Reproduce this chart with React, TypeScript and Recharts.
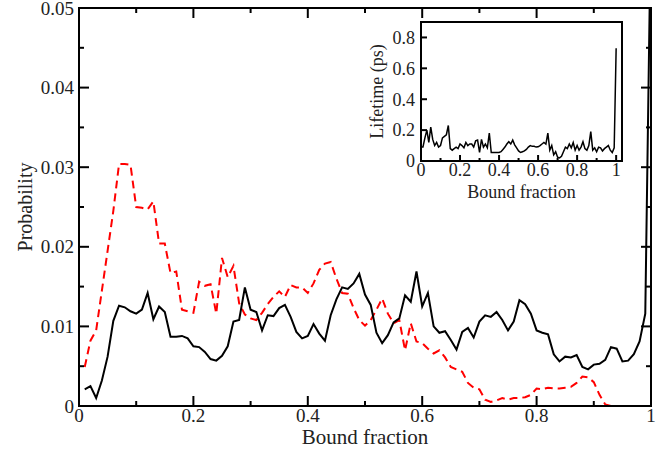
import { LineChart, Line, XAxis, YAxis, ReferenceArea } from "recharts";

const FONT = '"Liberation Serif", "Times New Roman", serif';

// probability histograms, bins 0.01 .. 1.00
const probSolid = [
  0.0021, 0.0025, 0.001, 0.0032, 0.0062, 0.0107, 0.0126, 0.0124, 0.0119, 0.0116,
  0.0121, 0.0142, 0.0109, 0.0125, 0.0118, 0.0087, 0.0087, 0.0088, 0.0085, 0.0075,
  0.0074, 0.0068, 0.0059, 0.0057, 0.0063, 0.0075, 0.0106, 0.0108, 0.0149, 0.0121,
  0.0118, 0.0095, 0.0114, 0.0113, 0.0123, 0.0127, 0.0112, 0.0093, 0.0085, 0.0088,
  0.0103, 0.0091, 0.0082, 0.0114, 0.0134, 0.0149, 0.0147, 0.0154, 0.0166, 0.014,
  0.0127, 0.0092, 0.0079, 0.0089, 0.0105, 0.011, 0.0139, 0.0131, 0.0169, 0.0125,
  0.0142, 0.01, 0.0092, 0.0094, 0.0083, 0.0071, 0.0093, 0.0098, 0.0086, 0.0106,
  0.0114, 0.0112, 0.0118, 0.0108, 0.0095, 0.0106, 0.0133, 0.0128, 0.0116, 0.0095,
  0.0092, 0.009, 0.0065, 0.0056, 0.0062, 0.0061, 0.0064, 0.0049, 0.0046, 0.0052,
  0.0053, 0.0058, 0.0074, 0.0072, 0.0056, 0.0057, 0.0065, 0.0081, 0.0116, 0.062,
];

const probDashed = [
  0.0049, 0.0082, 0.0095, 0.0145, 0.0195, 0.0245, 0.0304, 0.0304, 0.0303, 0.025,
  0.0249, 0.0247, 0.0257, 0.0204, 0.0204, 0.0167, 0.0169, 0.0121, 0.0119, 0.0117,
  0.0156, 0.0151, 0.0153, 0.0116, 0.0186, 0.0162, 0.0176, 0.0129, 0.0115, 0.011,
  0.0108, 0.0117, 0.0128, 0.0137, 0.0144, 0.0137, 0.0152, 0.0149, 0.0149, 0.0142,
  0.0154, 0.0171, 0.0179, 0.0181, 0.016, 0.0142, 0.0141, 0.0123, 0.0108, 0.0101,
  0.0108, 0.0121, 0.0135, 0.0116, 0.0104, 0.0108, 0.007, 0.0104, 0.0081, 0.0079,
  0.0072, 0.0066, 0.007, 0.0061, 0.0049, 0.0046, 0.0043, 0.0029, 0.0023, 0.0021,
  0.0008, 0.0005, 0.0007, 0.001, 0.0008, 0.001, 0.001, 0.0011, 0.0014, 0.0022,
  0.0021, 0.0023, 0.0022, 0.0022, 0.0023, 0.0024, 0.0029, 0.0037, 0.0036, 0.003,
  0.0014, 0.0002, 0, 0, 0, 0, 0, 0, 0, 0,
];

// inset: lifetime (ps), bins 0.00 .. 1.00
const lifetime = [
  0.09, 0.09, 0.15, 0.2, 0.12, 0.22, 0.14, 0.1, 0.12, 0.09,
  0.1, 0.15, 0.16, 0.17, 0.23, 0.08, 0.07, 0.08, 0.09, 0.08,
  0.11, 0.1, 0.085, 0.12, 0.1, 0.11, 0.11, 0.09, 0.13, 0.135,
  0.055, 0.14, 0.09, 0.11, 0.085, 0.18, 0.055, 0.055, 0.055, 0.055,
  0.055, 0.06, 0.075, 0.09, 0.11, 0.125, 0.11, 0.135, 0.105, 0.085,
  0.065, 0.055, 0.06, 0.065, 0.075, 0.09, 0.1, 0.095, 0.095, 0.09,
  0.092, 0.1, 0.11, 0.12, 0.11, 0.18, 0.07, 0.1, 0.04, 0.06,
  0.025, 0.02, 0.03, 0.06, 0.09, 0.08, 0.11, 0.085, 0.12, 0.07,
  0.1, 0.07, 0.09, 0.125, 0.08, 0.07, 0.1, 0.19, 0.07, 0.085,
  0.06, 0.09, 0.085, 0.065, 0.08, 0.09, 0.1, 0.07, 0.055, 0.085,
  0.73,
];

const xTicks = [0, 0.1, 0.2, 0.3, 0.4, 0.5, 0.6, 0.7, 0.8, 0.9, 1];
const xMajor = [0, 0.2, 0.4, 0.6, 0.8, 1];
const yTicks = [0, 0.005, 0.01, 0.015, 0.02, 0.025, 0.03, 0.035, 0.04, 0.045, 0.05];
const yMajor = [0, 0.01, 0.02, 0.03, 0.04, 0.05];
const insetYTicks = [0, 0.2, 0.4, 0.6, 0.8];

const mainData = probSolid.map((v, i) => ({
  x: (i + 1) / 100,
  solid: v,
  dashed: probDashed[i],
}));
const insetData = lifetime.map((v, i) => ({ x: i / 100, life: v }));

const fmt = (v: number) => String(v);

// inward tick (major/minor), optionally mirrored on the opposite frame side
function FrameTick(props: any) {
  const { x, y, payload, side, majors, majorLen, minorLen, fontSize, gap, mirror } = props;
  const major = majors.some((m: number) => Math.abs(m - payload.value) < 1e-9);
  const len = major ? majorLen : minorLen;
  const lines = [];
  if (side === "left") {
    lines.push(<line key="a" x1={x} x2={x + len} y1={y} y2={y} />);
    if (mirror) lines.push(<line key="b" x1={x + mirror} x2={x + mirror - len} y1={y} y2={y} />);
  } else {
    lines.push(<line key="a" x1={x} x2={x} y1={y} y2={y - len} />);
    if (mirror) lines.push(<line key="b" x1={x} x2={x} y1={y - mirror} y2={y - mirror + len} />);
  }
  let label = null;
  if (major) {
    label =
      side === "left" ? (
        <text x={x - gap} y={y} dy="0.35em" textAnchor="end" fontSize={fontSize} fontFamily={FONT} fill="#222">
          {fmt(payload.value)}
        </text>
      ) : (
        <text x={x} y={y + gap} dy="0.71em" textAnchor="middle" fontSize={fontSize} fontFamily={FONT} fill="#222">
          {fmt(payload.value)}
        </text>
      );
  }
  return (
    <g>
      <g stroke="#000" strokeWidth={2}>{lines}</g>
      {label}
    </g>
  );
}

const yTitle = (text: string, cx: number, size: number) => (props: any) => {
  const vb = props.viewBox;
  const cy = vb.y + vb.height / 2;
  return (
    <text x={cx} y={cy} transform={`rotate(-90 ${cx} ${cy})`} textAnchor="middle" dy="0.35em"
      fontSize={size} fontFamily={FONT} fill="#222">
      {text}
    </text>
  );
};

const xTitle = (text: string, dy: number, size: number) => (props: any) => {
  const vb = props.viewBox;
  return (
    <text x={vb.x + vb.width / 2} y={vb.y + dy} textAnchor="middle" fontSize={size} fontFamily={FONT} fill="#222">
      {text}
    </text>
  );
};

const axisStroke = { stroke: "#000", strokeWidth: 2 };

export default function App() {
  return (
    <div style={{ position: "fixed", left: 0, top: 0, width: 668, height: 455, background: "#fff" }}>
      <div style={{ position: "absolute", left: 0, top: 0 }}>
        <LineChart width={668} height={455} data={mainData} margin={{ top: 8, right: 17, bottom: 0, left: 0 }}>
          <XAxis dataKey="x" type="number" domain={[0, 1]} ticks={xTicks} height={49}
            axisLine={axisStroke} tickLine={false} tickSize={0} tickMargin={0} interval={0}
            tick={<FrameTick side="bottom" majors={xMajor} majorLen={10} minorLen={5} fontSize={19} gap={3} mirror={398} />}
            label={xTitle("Bound fraction", 38, 21)} />
          <YAxis type="number" domain={[0, 0.05]} ticks={yTicks} allowDataOverflow width={79}
            axisLine={axisStroke} tickLine={false} tickSize={0} tickMargin={0} interval={0}
            tick={<FrameTick side="left" majors={yMajor} majorLen={10} minorLen={5} fontSize={19} gap={5} mirror={572} />}
            label={yTitle("Probability", 25, 20)} />
          <ReferenceArea x1={0} x2={1} y1={0} y2={0.05} fill="none" stroke="#000" strokeWidth={2} ifOverflow="visible" />
          <Line dataKey="dashed" type="linear" stroke="#ff0000" strokeWidth={2}
            strokeDasharray="8 5" dot={false} isAnimationActive={false} />
          <Line dataKey="solid" type="linear" stroke="#000" strokeWidth={2}
            dot={false} isAnimationActive={false} />
        </LineChart>
      </div>
      <div style={{ position: "absolute", left: 360, top: 15 }}>
        <LineChart width={270} height={195} data={insetData} margin={{ top: 7, right: 8, bottom: 0, left: 0 }}>
          <XAxis dataKey="x" type="number" domain={[0, 1.03]} ticks={xTicks} height={49}
            axisLine={axisStroke} tickLine={false} tickSize={0} tickMargin={0} interval={0}
            tick={<FrameTick side="bottom" majors={xMajor} majorLen={6} minorLen={3} fontSize={18} gap={2} />}
            label={xTitle("Bound fraction", 37, 18)} />
          <YAxis type="number" domain={[0, 0.9]} ticks={insetYTicks} width={61}
            axisLine={axisStroke} tickLine={false} tickSize={0} tickMargin={0} interval={0}
            tick={<FrameTick side="left" majors={insetYTicks} majorLen={6} minorLen={3} fontSize={18} gap={6} />}
            label={yTitle("Lifetime (ps)", 17, 18)} />
          <ReferenceArea x1={0} x2={1.03} y1={0} y2={0.9} fill="none" stroke="#000" strokeWidth={2} />
          <Line dataKey="life" type="linear" stroke="#000" strokeWidth={1.5}
            dot={false} isAnimationActive={false} />
        </LineChart>
      </div>
    </div>
  );
}
